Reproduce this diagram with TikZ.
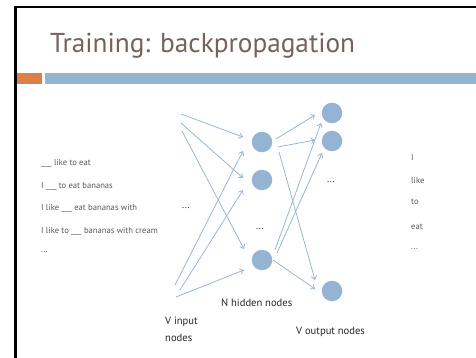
\documentclass[tikz,border=0pt]{standalone}
\usepackage{fontspec}
\setmainfont{PT Sans}
\usetikzlibrary{arrows.meta,calc}
\definecolor{nodeblue}{RGB}{149,179,210}
\definecolor{barblue}{RGB}{148,180,210}
\definecolor{barorange}{RGB}{221,128,71}
\definecolor{titlecol}{RGB}{117,99,91}
\definecolor{txtgray}{RGB}{89,89,89}
\definecolor{lblcol}{RGB}{38,38,38}
\begin{document}
\begin{tikzpicture}[x=1pt,y=-1pt,
  neuron/.style={circle,fill=nodeblue,minimum size=20.5pt,inner sep=0pt},
  arr/.style={draw=nodeblue,line width=0.75pt,-{Straight Barb[length=3.5pt,width=5.5pt]}},
  small/.style={font=\fontsize{8.6}{9}\selectfont,text=txtgray,inner sep=0pt,anchor=west},
  lbl/.style={font=\fontsize{10.6}{12}\selectfont,text=lblcol,inner sep=0pt,anchor=west},
  dots/.style={font=\fontsize{10}{11}\selectfont,text=lblcol,inner sep=0pt}]
\useasboundingbox (0,0) rectangle (476,358);
\fill[white] (0,0) rectangle (476,358);
\draw[line width=2.6pt,line join=miter] (15.3,358) -- (15.3,7) -- (476,7);
\fill[barorange] (16.7,73) rectangle (42,84.5);
\fill[barblue] (45,73) rectangle (476,84.5);
\node[font=\fontsize{27.3}{30}\selectfont,text=titlecol,anchor=base west,inner sep=0pt] (title) at (50,53) {Training: backpropagation};
% neurons
\node[neuron] (h1) at (262,142) {};
\node[neuron] (h2) at (262,180) {};
\node[neuron] (h3) at (262,260) {};
\node[neuron] (o1) at (332,113) {};
\node[neuron] (o2) at (332,141) {};
\node[neuron] (o3) at (332,291) {};
% input sources
\coordinate (i1) at (181,114);
\coordinate (i2) at (181,123);
\coordinate (i3) at (182,131);
\coordinate (i4) at (175,285);
\coordinate (i5) at (180,290);
\coordinate (i6) at (176,297);
% input -> hidden
\draw[arr] (i1) -- ($(h1)+(-19,-5)$);
\draw[arr] (i4) -- ($(h1)+(-19,9)$);
\draw[arr] (i2) -- ($(h2)+(-19,-2)$);
\draw[arr] (i5) -- ($(h2)+(-19,10)$);
\draw[arr] (i3) -- ($(h3)+(-18,-11)$);
\draw[arr] (i6) -- ($(h3)+(-18,10)$);
% hidden -> output
\draw[arr] ($(h1)+(14,-3)$) -- ($(o1)+(-17,2)$);
\draw[arr] ($(h1)+(16,5)$) -- ($(o2)+(-17,-1)$);
\draw[arr] ($(h1)+(17,10)$) -- ($(o3)+(-17,-11)$);
\draw[arr] ($(h3)+(13,-10)$) -- ($(o1)+(-11,10)$);
\draw[arr] ($(h3)+(15,-7)$) -- ($(o2)+(-10,12)$);
\draw[arr] ($(h3)+(11,0)$) -- ($(o3)+(-17,-2)$);
% dots
\node[dots] (din) at (186,208) {...};
\node[dots] (dhid) at (260,229) {...};
\node[dots] (dout) at (331,182) {...};
% left sentences
\node[small] (s1) at (41,163) {\_\_\_ like to eat};
\node[small] (s2) at (41,186) {I \_\_\_ to eat bananas};
\node[small] (s3) at (41,208) {I like \_\_\_ eat bananas with};
\node[small] (s4) at (41,231) {I like to \_\_\_ bananas with cream};
\node[small] (s5) at (41,252) {...};
% right words
\node[small] (w1) at (411,157) {I};
\node[small] (w2) at (411,181) {like};
\node[small] (w3) at (411,202) {to};
\node[small] (w4) at (411,227) {eat};
\node[small] (w5) at (411,249) {...};
% labels
\node[lbl] (lh) at (221,303) {N hidden nodes};
\node[lbl] (li1) at (165,322) {V input};
\node[lbl] (li2) at (165,338) {nodes};
\node[lbl] (lo) at (296,332) {V output nodes};
\end{tikzpicture}
\end{document}
